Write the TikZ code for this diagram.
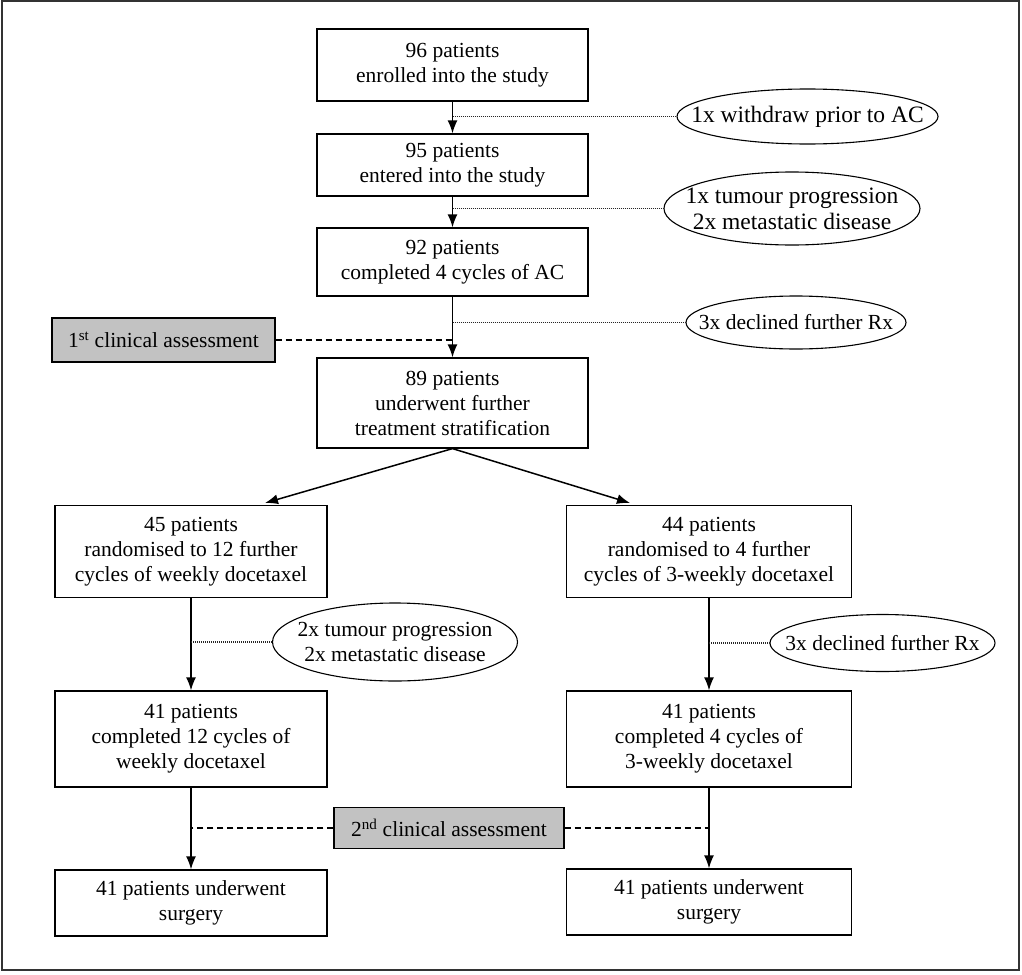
\documentclass[tikz,border=0pt]{standalone}
\usepackage{fontspec}
\setmainfont{Liberation Serif}
\usetikzlibrary{shapes.geometric,arrows.meta}
\begin{document}
\begin{tikzpicture}[x=1pt,y=-1pt,
  every node/.style={font=\fontsize{21.5}{25}\selectfont, align=center, inner sep=0pt},
  box/.style={draw, line width=1.2pt, rectangle},
  gbox/.style={draw, line width=1.2pt, rectangle, fill=gray!48},
  oval/.style={draw, line width=1.1pt, ellipse},
  bigtxt/.style={font=\fontsize{23.5}{26}\selectfont},
  arr/.style={line width=1.5pt, -{Latex[length=13pt,width=10pt]}},
  dotline/.style={line width=1.1pt, dash pattern=on 1pt off 1pt, black!85},
  dashline/.style={line width=1.2pt, dash pattern=on 6pt off 4pt}]
\useasboundingbox (0,0) rectangle (1022,974);
\draw[line width=2pt, black!80] (1.5,1.5) rectangle (1019,970);

% main boxes
\node[box, minimum width=271, minimum height=72] (b1) at (452.5,65) {96 patients\\enrolled into the study};
\node[box, minimum width=271, minimum height=62] (b2) at (452.5,165) {95 patients\\entered into the study};
\node[box, minimum width=271, minimum height=68] (b3) at (452.5,262) {92 patients\\completed 4 cycles of AC};
\node[box, minimum width=271, minimum height=90] (b4) at (452.5,403) {89 patients\\underwent further\\treatment stratification};
\node[box, minimum width=272, minimum height=92] (b5) at (191,551.5) {45 patients\\randomised to 12 further\\cycles of weekly docetaxel};
\node[box, minimum width=285, minimum height=92] (b6) at (709,551.5) {44 patients\\randomised to 4 further\\cycles of 3-weekly docetaxel};
\node[box, minimum width=272, minimum height=96] (b7) at (191,739) {41 patients\\completed 12 cycles of\\weekly docetaxel};
\node[box, minimum width=285, minimum height=96] (b8) at (709,739) {41 patients\\completed 4 cycles of\\3-weekly docetaxel};
\node[box, minimum width=272, minimum height=66] (b9) at (191,903) {41 patients underwent\\surgery};
\node[box, minimum width=285, minimum height=66] (b10) at (709,902) {41 patients underwent\\surgery};

% grey assessment boxes
\node[gbox, minimum width=223, minimum height=44] (g1) at (163.5,340) {1\textsuperscript{st} clinical assessment};
\node[gbox, minimum width=230, minimum height=41] (g2) at (449,828) {2\textsuperscript{nd} clinical assessment};

% ellipses (outline nodes) and their texts
\node[oval, minimum width=261, minimum height=55] (e1) at (807.5,116.5) {};
\node[bigtxt] (e1t) at (e1) {1x withdraw prior to AC};
\node[oval, minimum width=256, minimum height=73] (e2) at (792,208.5) {};
\node[bigtxt] (e2t) at (e2) {1x tumour progression\\2x metastatic disease};
\node[oval, minimum width=220, minimum height=53] (e3) at (796,322.5) {};
\node (e3t) at (e3) {3x declined further Rx};
\node[oval, minimum width=245, minimum height=78] (e4) at (395,642) {};
\node (e4t) at (e4) {2x tumour progression\\2x metastatic disease};
\node[oval, minimum width=225, minimum height=57] (e5) at (882.5,643) {};
\node (e5t) at (e5) {3x declined further Rx};

% arrows
\draw[arr] (b1) -- (b2);
\draw[arr] (b2) -- (b3);
\draw[arr] (b3) -- (b4);
\coordinate (t5) at (265,503);
\coordinate (t6) at (630,503);
\draw[arr] (b4.south) -- (t5);
\draw[arr] (b4.south) -- (t6);
\draw[arr] (b5) -- (b7);
\draw[arr] (b6) -- (b8);
\draw[arr] (b7) -- (b9);
\draw[arr] (b8) -- (b10);

% dotted side lines
\draw[dotline] (e1.west -| b1.south) -- (e1.west);
\draw[dotline] (e2.west -| b2.south) -- (e2.west);
\draw[dotline] (e3.west -| b3.south) -- (e3.west);
\draw[dotline] (e4.west -| b5.south) -- (e4.west);
\draw[dotline] (e5.west -| b6.south) -- (e5.west);

% dashed assessment lines
\draw[dashline] (g1.east) -- (g1.east -| b3.south);
\draw[dashline] (g2.west) -- (g2.west -| b7.south);
\draw[dashline] (g2.east) -- (g2.east -| b8.south);
\end{tikzpicture}
\end{document}
